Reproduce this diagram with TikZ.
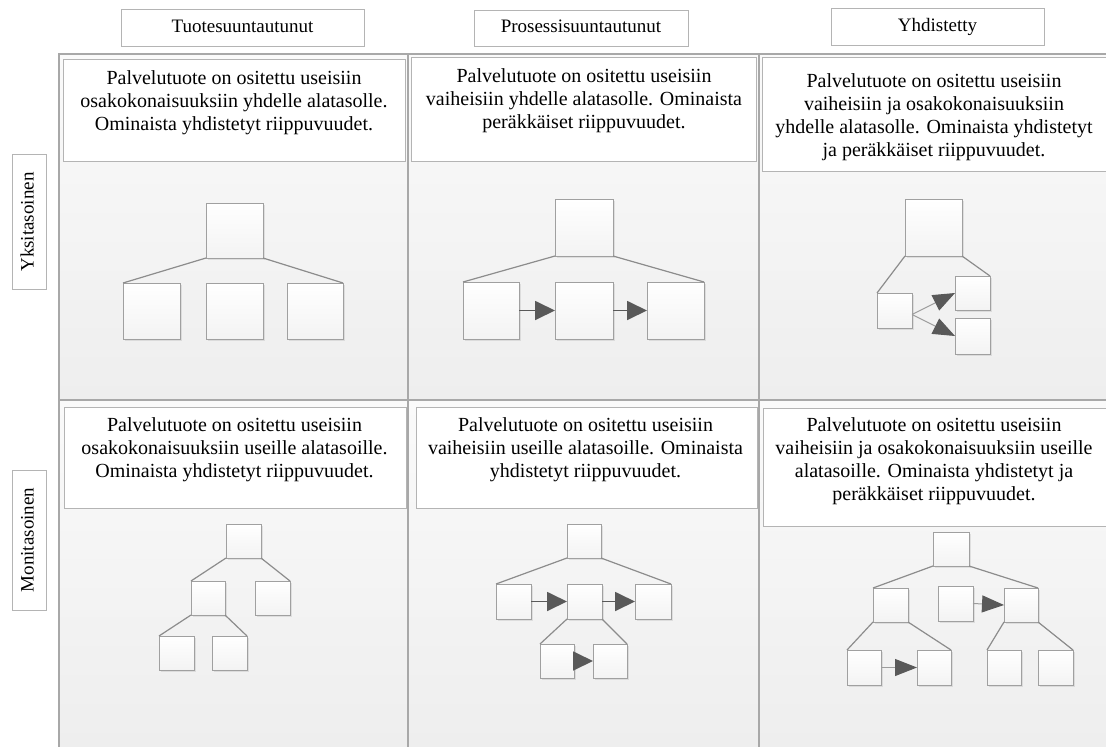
\documentclass[tikz,border=0pt]{standalone}
\usepackage{fontspec}
\setmainfont{Liberation Serif}
\usetikzlibrary{arrows.meta,shadows}

\definecolor{gridc}{HTML}{A8A8A8}
\definecolor{framec}{HTML}{B4B4B4}
\definecolor{boxc}{HTML}{A0A0A0}
\definecolor{linkc}{HTML}{8C8C8C}
\definecolor{headc}{HTML}{595959}
\definecolor{thinc}{HTML}{9C9C9C}
\definecolor{paneltop}{HTML}{FAFAFA}
\definecolor{panelbot}{HTML}{EEEEEE}

\tikzset{
  gridline/.style={draw=gridc, line width=1.6pt},
  textframe/.style={draw=framec, fill=white, line width=0.9pt, inner sep=0pt, outer sep=0pt},
  bodytext/.style={align=center, inner sep=0pt, anchor=north,
    font=\fontsize{20}{23}\selectfont},
  header/.style={draw=framec, fill=white, line width=0.9pt, inner sep=0pt,
    text height=13pt, text depth=4pt,
    font=\fontsize{19}{22}\selectfont},
  rowlabel/.style={header, rotate=90, minimum height=34pt},
  unitbox/.style={draw=boxc, line width=1pt, top color=white, bottom color=panelbot!70!white,
    inner sep=0pt, outer sep=0pt,
    drop shadow={opacity=0.18, shadow xshift=1.6pt, shadow yshift=-1.6pt}},
  link/.style={draw=linkc, line width=1.2pt},
  flow/.style={draw=headc, line width=1.8pt, -{Triangle[length=20pt, width=19pt, color=headc]}},
  flowthin/.style={draw=thinc, line width=1pt, -{Triangle[length=22pt, width=17pt, color=headc]}},
}

% \rectat{style}{name}{x1}{y1}{x2}{y2}: empty rectangle node between two corners
\newcommand{\rectat}[6]{%
  \node[#1, minimum width={(#5-#3)*1pt}, minimum height={(#6-#4)*1pt}]
    (#2) at ({(#3+#5)/2},{(#4+#6)/2}) {};}

\begin{document}
\begin{tikzpicture}[x=1pt, y=-1pt]
\useasboundingbox (0,0) rectangle (1106,747);
\fill[white] (0,0) rectangle (1106,747);

% panel backgrounds
\shade[top color=paneltop, bottom color=panelbot] (59,54) rectangle (1106,400);
\shade[top color=paneltop, bottom color=panelbot] (59,400) rectangle (1106,747);

% grid
\draw[gridline] (59,747) -- (59,54) -- (1106,54);
\draw[gridline] (408,54) -- (408,747);
\draw[gridline] (759,54) -- (759,747);
\draw[gridline] (59,400) -- (1106,400);

% column headers
\node[header, minimum width=243pt, minimum height=37pt] (h1) at (242.5,27.5) {Tuotesuuntautunut};
\node[header, minimum width=214pt, minimum height=36pt] (h2) at (581,28) {Prosessisuuntautunut};
\node[header, minimum width=213pt, minimum height=37pt] (h3) at (937.5,26.5) {Yhdistetty};

% row headers
\node[rowlabel, minimum width=135pt] (r1) at (29,222) {Yksitasoinen};
\node[rowlabel, minimum width=140pt] (r2) at (29,540) {Monitasoinen};

% description frames
\rectat{textframe}{f11}{63}{59}{405}{161}
\rectat{textframe}{f12}{411}{57}{756}{161}
\rectat{textframe}{f13}{762}{57}{1108}{171}
\rectat{textframe}{f21}{64}{407}{406}{508}
\rectat{textframe}{f22}{416}{407}{757}{508}
\rectat{textframe}{f23}{763}{408}{1108}{526}

\node[bodytext] (d11) at (234,70) {Palvelutuote on ositettu useisiin\\osakokonaisuuksiin yhdelle alatasolle.\\Ominaista yhdistetyt riippuvuudet.};
\node[bodytext] (d12) at (584,68) {Palvelutuote on ositettu useisiin\\vaiheisiin yhdelle alatasolle. Ominaista\\peräkkäiset riippuvuudet.};
\node[bodytext] (d13) at (934,73) {Palvelutuote on ositettu useisiin\\vaiheisiin ja osakokonaisuuksiin\\yhdelle alatasolle. Ominaista yhdistetyt\\ja peräkkäiset riippuvuudet.};
\node[bodytext] (d21) at (234.5,417) {Palvelutuote on ositettu useisiin\\osakokonaisuuksiin useille alatasoille.\\Ominaista yhdistetyt riippuvuudet.};
\node[bodytext] (d22) at (585.5,417) {Palvelutuote on ositettu useisiin\\vaiheisiin useille alatasoille. Ominaista\\yhdistetyt riippuvuudet.};
\node[bodytext] (d23) at (934,417) {Palvelutuote on ositettu useisiin\\vaiheisiin ja osakokonaisuuksiin useille\\alatasoille. Ominaista yhdistetyt ja\\peräkkäiset riippuvuudet.};

% ---- single level, product oriented
\rectat{unitbox}{a0}{206}{203}{263}{258}
\rectat{unitbox}{a1}{123}{283}{180}{339}
\rectat{unitbox}{a2}{206}{283}{263}{339}
\rectat{unitbox}{a3}{287}{283}{343}{339}
\draw[link] (a0.south west) -- (a1.north west);
\draw[link] (a0.south east) -- (a3.north east);

% ---- single level, process oriented
\rectat{unitbox}{b0}{555}{199}{613}{256}
\rectat{unitbox}{b1}{463}{282}{519}{339}
\rectat{unitbox}{b2}{555}{282}{613}{339}
\rectat{unitbox}{b3}{647}{282}{704}{339}
\draw[link] (b0.south west) -- (b1.north west);
\draw[link] (b0.south east) -- (b3.north east);
\draw[flow] (b1.east) -- (b2.west);
\draw[flow] (b2.east) -- (b3.west);

% ---- single level, combined
\rectat{unitbox}{c0}{905}{199}{962}{256}
\rectat{unitbox}{c1}{877}{293}{912}{328}
\rectat{unitbox}{c2}{955}{276}{990}{310}
\rectat{unitbox}{c3}{955}{318}{990}{354}
\draw[link] (c0.south west) -- (c1.north west);
\draw[link] (c0.south east) -- (c2.north east);
\draw[flowthin] ([yshift=-4pt]c1.east) -- (c2.west);
\draw[flowthin] ([yshift=-4pt]c1.east) -- (c3.west);

% ---- multi level, product oriented
\rectat{unitbox}{d0}{226}{524}{261}{558}
\rectat{unitbox}{d1}{191}{581}{225}{615}
\rectat{unitbox}{d2}{255}{581}{290}{615}
\rectat{unitbox}{d3}{159}{636}{194}{670}
\rectat{unitbox}{d4}{212}{636}{247}{670}
\draw[link] (d0.south west) -- (d1.north west);
\draw[link] (d0.south east) -- (d2.north east);
\draw[link] (d1.south west) -- (d3.north west);
\draw[link] (d1.south east) -- (d4.north east);

% ---- multi level, process oriented
\rectat{unitbox}{e0}{567}{524}{601}{558}
\rectat{unitbox}{e1}{496}{584}{531}{619}
\rectat{unitbox}{e2}{567}{584}{602}{619}
\rectat{unitbox}{e3}{635}{584}{671}{619}
\rectat{unitbox}{e4}{540}{644}{574}{678}
\rectat{unitbox}{e5}{593}{644}{627}{678}
\draw[link] (e0.south west) -- (e1.north west);
\draw[link] (e0.south east) -- (e3.north east);
\draw[link] (e2.south west) -- (e4.north west);
\draw[link] (e2.south east) -- (e5.north east);
\draw[flow] (e1.east) -- (e2.west);
\draw[flow] (e2.east) -- (e3.west);
\draw[flow] (e4.east) -- (e5.west);

% ---- multi level, combined
\rectat{unitbox}{g0}{933}{532}{969}{566}
\rectat{unitbox}{g1}{873}{588}{908}{622}
\rectat{unitbox}{g2}{938}{586}{973}{621}
\rectat{unitbox}{g3}{1004}{588}{1038}{622}
\rectat{unitbox}{g4}{847}{650}{881}{685}
\rectat{unitbox}{g5}{917}{650}{951}{685}
\rectat{unitbox}{g6}{987}{650}{1021}{685}
\rectat{unitbox}{g7}{1038}{650}{1073}{685}
\draw[link] (g0.south west) -- (g1.north west);
\draw[link] (g0.south east) -- (g3.north east);
\draw[link] (g1.south west) -- (g4.north west);
\draw[link] (g1.south east) -- (g5.north east);
\draw[link] (g3.south west) -- (g6.north west);
\draw[link] (g3.south east) -- (g7.north east);
\draw[flowthin] (g2.east) -- (g3.west);
\draw[flowthin] (g4.east) -- (g5.west);
\end{tikzpicture}
\end{document}
